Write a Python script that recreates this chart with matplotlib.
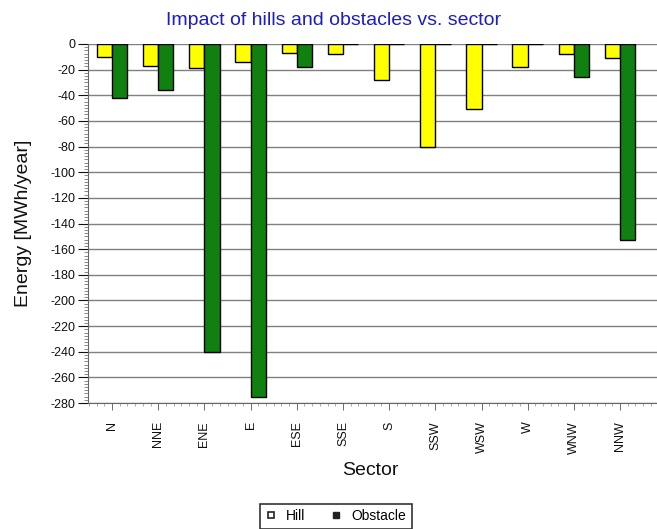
import matplotlib
matplotlib.use("Agg")
import matplotlib.pyplot as plt
import numpy as np
from matplotlib.ticker import MultipleLocator

# Energy loss per sector [MWh/year]
sectors = ["N", "NNE", "ENE", "E", "ESE", "SSE", "S", "SSW", "WSW", "W", "WNW", "NNW"]
hill = [-10, -17, -19, -14, -7, -8, -28, -80, -51, -18, -8, -11]
obstacle = [-42, -36, -240, -275, -18, 0, 0, 0, 0, 0, -26, -153]

plt.rcParams["font.family"] = ["Liberation Sans", "DejaVu Sans"]
plt.rcParams["axes.unicode_minus"] = False

fig = plt.figure(figsize=(6.57, 5.29), dpi=100)
ax = fig.add_axes([0.134, 0.238, 0.866, 0.679])

x = np.arange(len(sectors))
w = 0.33
ax.bar(x - w / 2, hill, width=w, color="#ffff00", edgecolor="black", linewidth=1.0,
       label="Hill", zorder=3)
ax.bar(x + w / 2, obstacle, width=w, color="#108010", edgecolor="black", linewidth=1.0,
       label="Obstacle", zorder=3)

ax.set_xlim(-0.52, 11.8)
ax.set_ylim(-280, 0)
ax.yaxis.set_major_locator(MultipleLocator(20))
ax.yaxis.set_minor_locator(MultipleLocator(2.5))
ax.xaxis.set_minor_locator(MultipleLocator(1 / 6))
ax.set_xticks(x)
ax.set_xticklabels(sectors, rotation=90, fontsize=9, color="#111111")
ax.tick_params(axis="y", labelsize=9, colors="#111111", length=7, width=0.8, pad=2)
ax.tick_params(axis="y", which="minor", length=3, width=0.6, colors="#777777")
ax.tick_params(axis="x", length=5, width=0.6, colors="#555555", pad=8)
ax.tick_params(axis="x", which="minor", length=2, width=0.5, colors="#888888")
for lbl in ax.get_xticklabels() + ax.get_yticklabels():
    lbl.set_color("#111111")

ax.grid(axis="y", color="#808080", linewidth=1.0, zorder=0)
for side in ("top", "right"):
    ax.spines[side].set_visible(False)
ax.spines["left"].set_color("#666666")
ax.spines["bottom"].set_color("#666666")

ax.set_ylabel("Energy [MWh/year]", fontsize=14, color="#111111")
ax.yaxis.set_label_coords(-0.098, 0.5)
ax.set_xlabel("Sector", fontsize=14, color="#111111")
ax.xaxis.set_label_coords(0.497, -0.163)
fig.text(0.508, 0.962, "Impact of hills and obstacles vs. sector", ha="center",
         va="center", fontsize=14, color="#1c1cc8")

# Legend uses small square markers in a framed box
h1, = ax.plot([], [], "s", markersize=4.5, markerfacecolor="white",
              markeredgecolor="#222222", markeredgewidth=1.2)
h2, = ax.plot([], [], "s", markersize=4.5, markerfacecolor="#222222",
              markeredgecolor="#222222")
leg = fig.legend([h1, h2], ["Hill", "Obstacle"], loc="center",
                 bbox_to_anchor=(0.511, 0.024), ncol=2, fontsize=10,
                 frameon=True, fancybox=False, handlelength=0.8,
                 handletextpad=0.7, columnspacing=1.8, borderpad=0.4)
leg.get_frame().set_edgecolor("black")
leg.get_frame().set_linewidth(1.2)

fig.savefig("out.png", dpi=100)
